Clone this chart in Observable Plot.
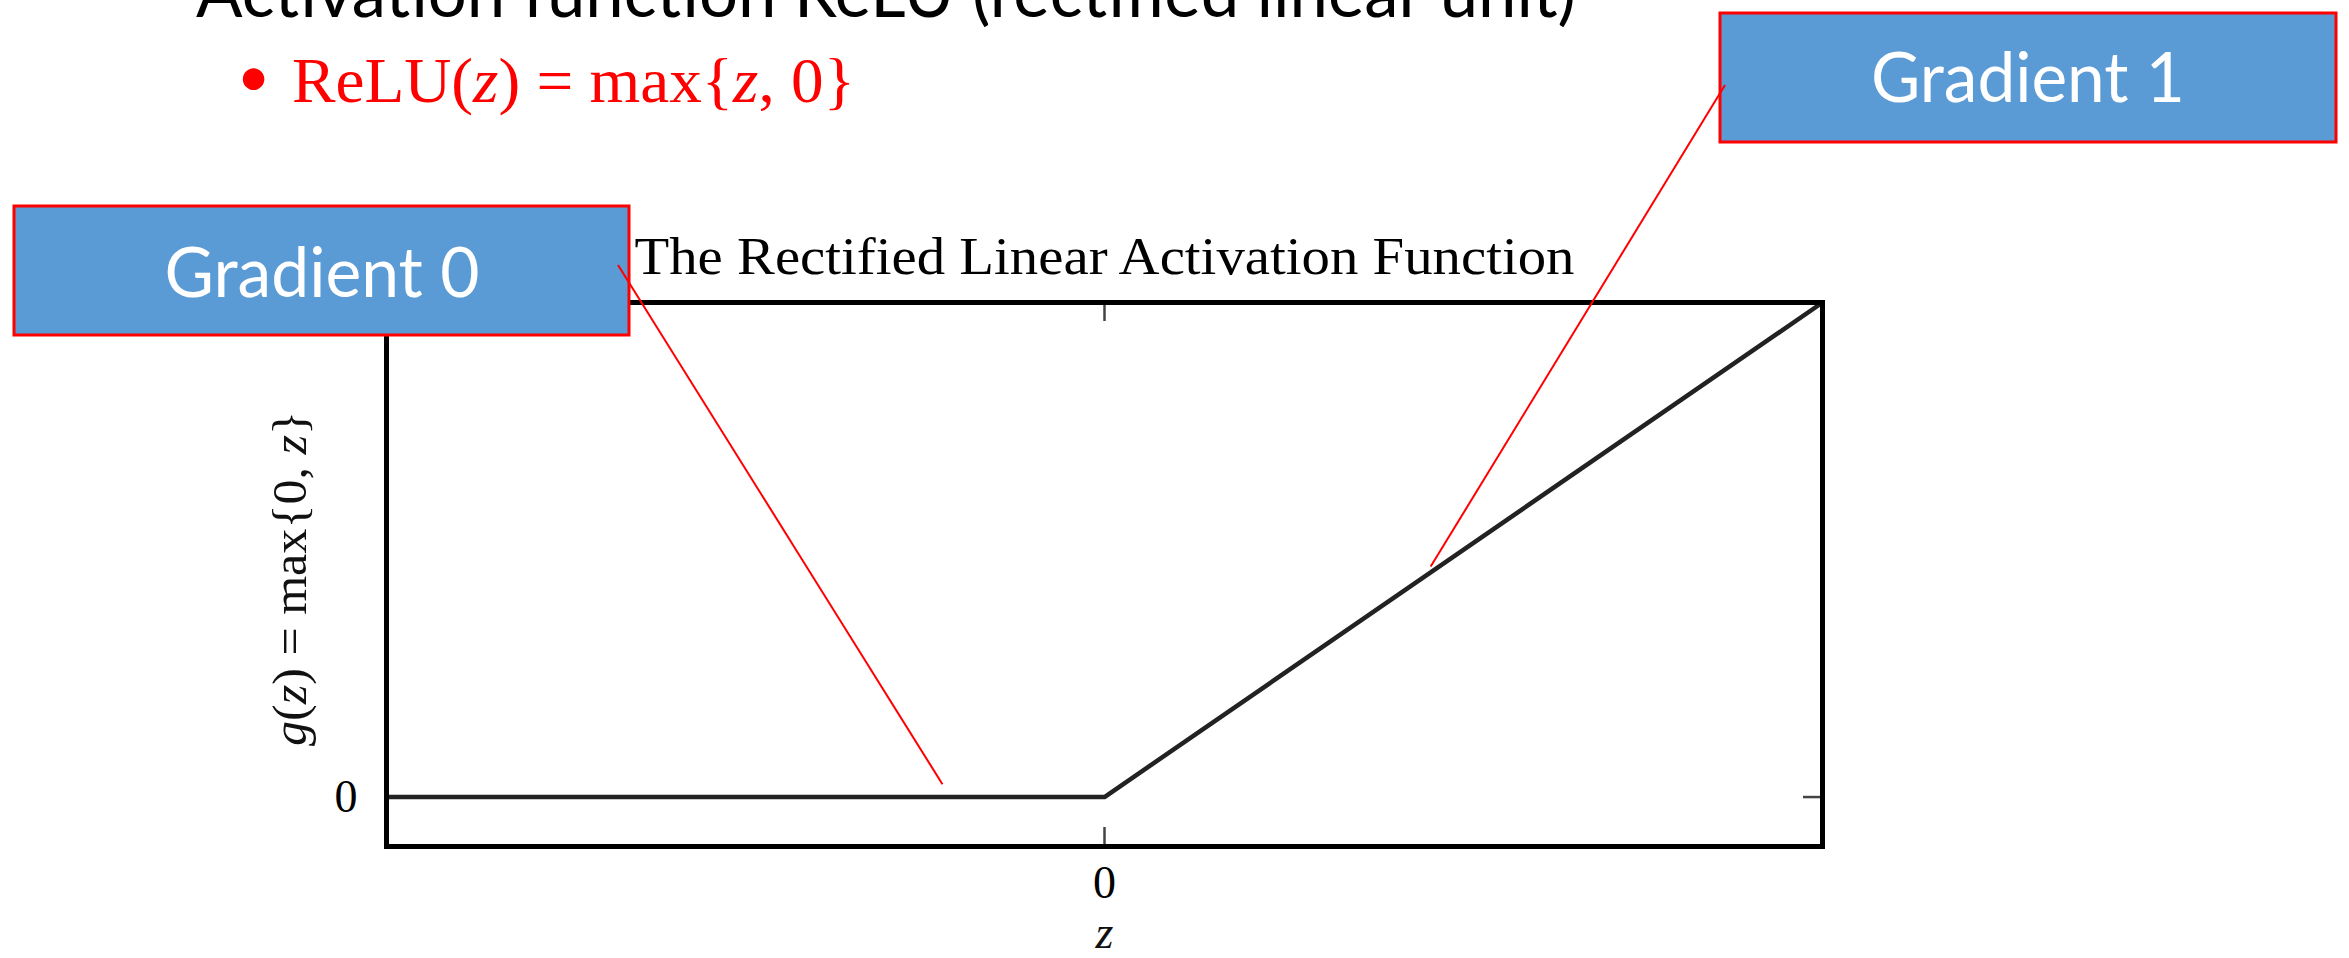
<!DOCTYPE html>
<html>
<head>
<meta charset="utf-8">
<script src="https://cdn.jsdelivr.net/npm/d3@7"></script>
<script src="https://cdn.jsdelivr.net/npm/@observablehq/plot@0.6"></script>
<style>
  html, body { margin: 0; padding: 0; background: #fff; }
  #wrap { position: relative; width: 2349px; height: 958px; overflow: hidden; background: #fff; }
  #wrap > svg { position: absolute; left: 0; top: 0; }
  #overlay { pointer-events: none; }
</style>
</head>
<body>
<div id="wrap"></div>
<script>
// ---- data ----
const zValues = [-2, 0, 2];
const gValues = [0, 0, 2];
const xTicks = [0];
const xTickLabels = ["0"];
const yTicks = [0];
const yTickLabels = ["0"];
const chartTitle = "The Rectified Linear Activation Function";
const xLabel = "z";
const yLabelParts = [["g", true], ["(", false], ["z", true], [") = max{0, ", false], ["z", true], ["}", false]];
const slideHeader = "Activation function ReLU (rectified linear unit)";
const bulletParts = [["ReLU(", false], ["z", true], [") = max{", false], ["z", true], [", 0}", false]];
const annotationLabels = ["Gradient 0", "Gradient 1"];
const annotationTargetZ = [-0.45, 0.91];
const annotationTargetG = [0.05, 0.93];

// ---- layout ----
const W = 2349, H = 958;
const mL = 386, mR = 527, mT = 302, mB = 112;
const fw = W - mL - mR, fh = H - mT - mB;
const tickLen = 19;
const serif = "'Liberation Serif', 'DejaVu Serif', serif";
const sans = "Lato, 'Open Sans', 'Noto Sans', sans-serif";
const boxes = [
  {x: 14, y: 206, w: 615, h: 129, tx: 322, ty: 297, tl: 315, ax: 618, ay: 265},
  {x: 1720, y: 13, w: 616, h: 129, tx: 2028, ty: 102, tl: 314, ax: 1725, ay: 85}
];

const points = zValues.map((z, i) => ({z, g: gValues[i]}));
const yLabelText = yLabelParts.map(p => p[0]).join("");

const plot = Plot.plot({
  width: W, height: H,
  marginLeft: mL, marginRight: mR, marginTop: mT, marginBottom: mB,
  x: {domain: [-2, 2]},
  y: {domain: [-0.2, 2]},
  style: {background: "transparent", fontFamily: serif, color: "black"},
  marks: [
    Plot.ruleX(xTicks, {x: d => d, insetBottom: fh - tickLen, stroke: "#444", strokeWidth: 2.5}),
    Plot.ruleX(xTicks, {x: d => d, insetTop: fh - tickLen, stroke: "#444", strokeWidth: 2.5}),
    Plot.ruleY(yTicks, {y: d => d, insetRight: fw - tickLen, stroke: "#444", strokeWidth: 2.5}),
    Plot.ruleY(yTicks, {y: d => d, insetLeft: fw - tickLen, stroke: "#444", strokeWidth: 2.5}),
    Plot.line(points, {x: "z", y: "g", stroke: "#222", strokeWidth: 4.5}),
    Plot.frame({stroke: "black", strokeWidth: 5}),
    Plot.axisX(xTicks, {anchor: "bottom", tickSize: 0, tickPadding: 19, fontSize: 46, label: null,
      tickFormat: d => xTickLabels[xTicks.indexOf(d)]}),
    Plot.axisY(yTicks, {anchor: "left", tickSize: 0, tickPadding: 29, fontSize: 46, label: null,
      tickFormat: d => yTickLabels[yTicks.indexOf(d)]}),
    Plot.text([chartTitle], {text: d => d, frameAnchor: "top", lineAnchor: "bottom", dy: -29,
      fontSize: 52, fill: "#000"}),
    Plot.text([xLabel], {text: d => d, frameAnchor: "bottom", lineAnchor: "bottom", dy: 101,
      fontSize: 46, fontStyle: "italic", fill: "#111"}),
    Plot.text([yLabelText], {text: d => d, frameAnchor: "left", rotate: -90,
      textAnchor: "middle", lineAnchor: "middle",
      dx: -96, dy: 4, fontSize: 48, fill: "#111"})
  ]
});

const wrap = document.getElementById("wrap");
wrap.appendChild(plot);

const NS = "http://www.w3.org/2000/svg";
function fillParts(textEl, parts) {
  textEl.textContent = "";
  for (const [s, it] of parts) {
    const t = document.createElementNS(NS, "tspan");
    t.textContent = s;
    if (it) t.setAttribute("font-style", "italic");
    textEl.appendChild(t);
  }
}
// refine chart texts (find by content)
const allTexts = Array.from(plot.querySelectorAll("text"));
const titleEl = allTexts.find(t => t.textContent === chartTitle);
if (titleEl) { titleEl.setAttribute("textLength", 940); titleEl.setAttribute("lengthAdjust", "spacingAndGlyphs"); }
const yl = allTexts.find(t => t.textContent === yLabelText);
if (yl) { fillParts(yl, yLabelParts); yl.setAttribute("textLength", 335); yl.setAttribute("lengthAdjust", "spacingAndGlyphs"); }

// ---- overlay (slide text, callout boxes, leader lines) ----
const ov = d3.select(wrap).append("svg").attr("id", "overlay")
  .attr("width", W).attr("height", H).attr("viewBox", `0 0 ${W} ${H}`);

ov.append("text").attr("x", 196).attr("y", 17)
  .attr("font-family", sans).attr("font-size", 70).attr("fill", "#000")
  .attr("textLength", 1380).attr("lengthAdjust", "spacingAndGlyphs")
  .text(slideHeader);

ov.append("text").attr("x", 253.5).attr("y", 97).attr("text-anchor", "middle")
  .attr("font-family", sans).attr("font-size", 58).attr("fill", "#ff0000").text("\u2022");

const bt = ov.append("text").attr("x", 292).attr("y", 102)
  .attr("font-family", serif).attr("font-size", 63).attr("fill", "#ff0000")
  .attr("textLength", 563).attr("lengthAdjust", "spacingAndGlyphs");
fillParts(bt.node(), bulletParts);

const sx = plot.scale("x"), sy = plot.scale("y");
boxes.forEach((b, i) => {
  ov.append("rect").attr("x", b.x).attr("y", b.y).attr("width", b.w).attr("height", b.h)
    .attr("fill", "#5b9bd5").attr("stroke", "#ff0000").attr("stroke-width", 3);
  ov.append("text").attr("x", b.tx).attr("y", b.ty).attr("text-anchor", "middle")
    .attr("font-family", sans).attr("font-size", 70).attr("fill", "#fff")
    .attr("textLength", b.tl).attr("lengthAdjust", "spacingAndGlyphs")
    .text(annotationLabels[i]);
});
boxes.forEach((b, i) => {
  ov.append("line").attr("x1", b.ax).attr("y1", b.ay)
    .attr("x2", sx.apply(annotationTargetZ[i])).attr("y2", sy.apply(annotationTargetG[i]))
    .attr("stroke", "#ff0000").attr("stroke-width", 2);
});
</script>
</body>
</html>
